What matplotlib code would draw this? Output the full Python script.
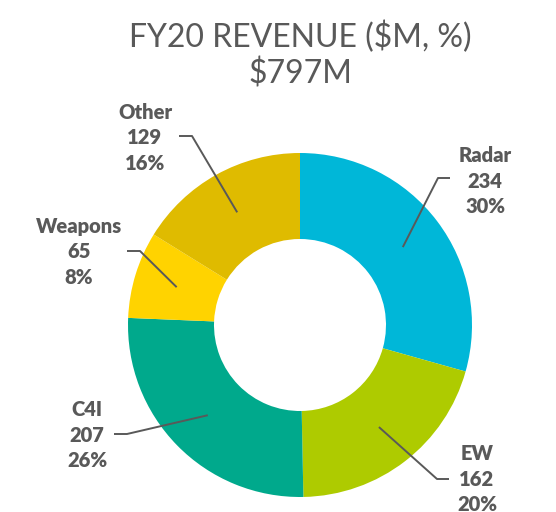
import numpy as np
import matplotlib
matplotlib.use("Agg")
import matplotlib.pyplot as plt

# FY20 revenue by segment, $M
segments = ["Radar", "EW", "C4I", "Weapons", "Other"]
revenue = [234, 162, 207, 65, 129]
shares = ["30%", "20%", "26%", "8%", "16%"]
colors = ["#00B7D8", "#AECB00", "#00A98C", "#FFD300", "#DFBB00"]
total_label = "$797M"

W, H = 556, 512
center = (300, H - 325)
radius = 172

# label centre and leader elbow for each slice, in pixels from the top-left
label_xy = [(485, 181), (477, 479), (87, 435), (79, 252), (145, 138)]
elbow_xy = [(438, 178), (437, 479), (127, 434), (140, 251), (192, 136)]
tail_xy = [(450, 178), (449, 479), (114, 434), (127, 251), (179, 136)]

plt.rcParams["font.family"] = ["Lato", "DejaVu Sans"]
grey = "#595959"

fig = plt.figure(figsize=(W / 100, H / 100), dpi=100)
ax = fig.add_axes([0, 0, 1, 1])

wedges, _ = ax.pie(revenue, colors=colors, startangle=90, counterclock=False,
                   center=center, radius=radius,
                   wedgeprops=dict(width=radius * 0.5, linewidth=0))
ax.set_xlim(0, W)
ax.set_ylim(0, H)
ax.set_aspect("equal")
ax.axis("off")

for w, name, val, pct, lxy, exy, txy in zip(wedges, segments, revenue, shares,
                                             label_xy, elbow_xy, tail_xy):
    mid = np.deg2rad((w.theta1 + w.theta2) / 2)
    ax_pt = (center[0] + 0.75 * radius * np.cos(mid),
             center[1] + 0.75 * radius * np.sin(mid))
    ax.plot([ax_pt[0], exy[0], txy[0]], [ax_pt[1], H - exy[1], H - txy[1]],
            color=grey, lw=1.4, solid_capstyle="butt")
    ax.text(lxy[0], H - lxy[1], f"{name}\n{val}\n{pct}", ha="center", va="center",
            fontsize=14.5, fontweight="heavy", color=grey, linespacing=1.42)

ax.text(W / 2 + 22, H - 37, "FY20 REVENUE ($M, %)", ha="center", va="center",
        fontsize=23, color=grey)
ax.text(W / 2 + 22, H - 74, total_label, ha="center", va="center",
        fontsize=23, color=grey)

fig.savefig("out.png", dpi=100)
